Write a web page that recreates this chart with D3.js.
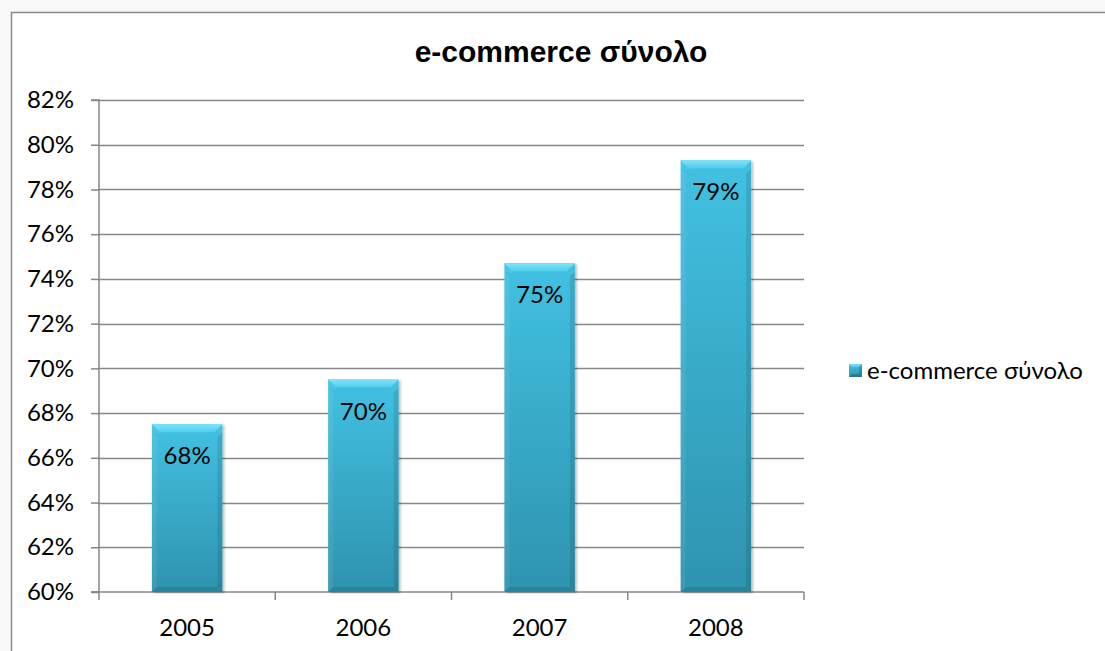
<!DOCTYPE html>
<html>
<head>
<meta charset="utf-8">
<script src="https://cdn.jsdelivr.net/npm/d3@7/dist/d3.min.js"></script>
<style>
  html, body { margin: 0; padding: 0; background: #f9f9f9; }
  svg { display: block; }
</style>
</head>
<body>
<svg id="chart" width="1105" height="651"></svg>
<script>
// Share of e-commerce per year
const years = ["2005", "2006", "2007", "2008"];
const values = [67.5, 69.5, 74.7, 79.3];
const valueLabels = ["68%", "70%", "75%", "79%"];
const yTicks = [60, 62, 64, 66, 68, 70, 72, 74, 76, 78, 80, 82];
const seriesName = "e-commerce σύνολο";
const title = "e-commerce σύνολο";

const svg = d3.select("#chart");
const W = 1105, H = 651;
const plot = { left: 99, right: 804, top: 100, bottom: 592 };
const bodyFont = "Lato, 'Open Sans', sans-serif";
const fs = 24;

// chart frame
svg.append("rect")
  .attr("x", 11.5).attr("y", 12.5)
  .attr("width", W + 20).attr("height", H + 20)
  .attr("fill", "#ffffff").attr("stroke", "#8a8a8a").attr("stroke-width", 1.5);

const defs = svg.append("defs");
const body = defs.append("linearGradient").attr("id", "barBody")
  .attr("x1", 0).attr("y1", 0).attr("x2", 0).attr("y2", 1);
body.append("stop").attr("offset", "0%").attr("stop-color", "#42c1e2");
body.append("stop").attr("offset", "100%").attr("stop-color", "#2e93af");
const cap = defs.append("linearGradient").attr("id", "barCap")
  .attr("x1", 0).attr("y1", 0).attr("x2", 0).attr("y2", 1);
cap.append("stop").attr("offset", "0%").attr("stop-color", "#7ee3fa");
cap.append("stop").attr("offset", "100%").attr("stop-color", "#50cdeb");
const shadow = defs.append("filter").attr("id", "barShadow")
  .attr("x", "-20%").attr("y", "-20%").attr("width", "140%").attr("height", "140%");
shadow.append("feDropShadow").attr("dx", 2).attr("dy", 1).attr("stdDeviation", 1.2)
  .attr("flood-color", "#000").attr("flood-opacity", 0.25);

const x = d3.scaleBand().domain(years).range([plot.left, plot.right]).paddingInner(0.6).paddingOuter(0.3);
const xb = d3.scaleBand().domain(years).range([plot.left, plot.right]);
const y = d3.scaleLinear().domain([60, 82]).range([plot.bottom, plot.top]);

// gridlines
svg.append("g").selectAll("line").data(yTicks.slice(1)).join("line")
  .attr("x1", plot.left).attr("x2", plot.right)
  .attr("y1", d => Math.round(y(d)) + 0.5).attr("y2", d => Math.round(y(d)) + 0.5)
  .attr("stroke", "#878787").attr("stroke-width", 1.5);

// y axis
const yAxis = d3.axisLeft(y).tickValues(yTicks).tickSize(8).tickPadding(17)
  .tickFormat(d => d + "%");
const gy = svg.append("g").attr("transform", `translate(${plot.left},0)`).call(yAxis);
gy.select(".domain").attr("stroke", "#878787").attr("stroke-width", 1.5)
  .attr("d", `M-8,${plot.top}H0V${plot.bottom}H-8`);
gy.selectAll(".tick line").attr("stroke", "#878787").attr("stroke-width", 1.5);
gy.selectAll(".tick text").attr("font-family", bodyFont).attr("font-size", fs).attr("fill", "#000");

// x axis with ticks at category boundaries
const gx = svg.append("g").attr("transform", `translate(0,${plot.bottom})`);
gx.append("line").attr("x1", plot.left - 8).attr("x2", plot.right)
  .attr("y1", 0).attr("y2", 0).attr("stroke", "#878787").attr("stroke-width", 1.5);
const bounds = years.map(d => xb(d)).concat([plot.right]);
gx.selectAll("line.tk").data(bounds).join("line").attr("class", "tk")
  .attr("x1", d => d).attr("x2", d => d).attr("y1", 0).attr("y2", 8)
  .attr("stroke", "#878787").attr("stroke-width", 1.5);
gx.selectAll("text").data(years).join("text")
  .attr("x", d => xb(d) + xb.bandwidth() / 2).attr("y", 44)
  .attr("text-anchor", "middle")
  .attr("font-family", bodyFont).attr("font-size", fs).attr("fill", "#000")
  .text(d => d);

// bevelled bars
const bt = 8, bs = 5;
const bars = svg.append("g").selectAll("g").data(years.map((d, i) => ({ year: d, v: values[i], label: valueLabels[i] })))
  .join("g");
bars.each(function (d) {
  const g = d3.select(this);
  const x0 = x(d.year), w = x.bandwidth();
  const y0 = y(d.v), h = y(60) - y(d.v);
  g.append("rect").attr("x", x0).attr("y", y0).attr("width", w).attr("height", h)
    .attr("fill", "url(#barBody)").attr("filter", "url(#barShadow)");
  const poly = pts => pts.map(p => p.join(",")).join(" ");
  g.append("polygon").attr("points", poly([[x0, y0 + bt], [x0 + bs, y0 + bt + bs], [x0 + bs, y0 + h - bs], [x0, y0 + h]]))
    .attr("fill", "#ffffff").attr("fill-opacity", 0.07);
  g.append("polygon").attr("points", poly([[x0 + w, y0 + bt], [x0 + w - bs, y0 + bt + bs], [x0 + w - bs, y0 + h - bs], [x0 + w, y0 + h]]))
    .attr("fill", "#000000").attr("fill-opacity", 0.1);
  g.append("polygon").attr("points", poly([[x0, y0 + h], [x0 + bs, y0 + h - bs], [x0 + w - bs, y0 + h - bs], [x0 + w, y0 + h]]))
    .attr("fill", "#000000").attr("fill-opacity", 0.1);
  g.append("polygon").attr("points", poly([[x0, y0], [x0 + w, y0], [x0 + w - bt, y0 + bt], [x0 + bt, y0 + bt]]))
    .attr("fill", "url(#barCap)");
  g.append("polygon").attr("points", poly([[x0, y0], [x0 + bt, y0 + bt], [x0 + bt, y0 + bt + 2], [x0, y0 + bt]]))
    .attr("fill", "#ffffff").attr("fill-opacity", 0.07);
  g.append("text").attr("x", x0 + w / 2).attr("y", y0 + 40)
    .attr("text-anchor", "middle")
    .attr("font-family", bodyFont).attr("font-size", fs).attr("fill", "#000")
    .text(d.label);
});

// title
svg.append("text").attr("x", 561).attr("y", 62).attr("text-anchor", "middle")
  .attr("font-family", "'Liberation Sans', Arial, sans-serif").attr("font-weight", "bold")
  .attr("font-size", 30).attr("fill", "#000").text(title);

// legend
const ls = 13;
const lg = svg.append("g").attr("transform", "translate(849,364)");
lg.append("rect").attr("x", 0).attr("y", 0).attr("width", ls).attr("height", ls).attr("fill", "url(#barBody)");
lg.append("polygon").attr("points", `0,0 ${ls},0 ${ls - 3},3 3,3`).attr("fill", "url(#barCap)");
lg.append("polygon").attr("points", `${ls},0 ${ls - 3},3 ${ls - 3},${ls - 3} ${ls},${ls}`).attr("fill", "#000").attr("fill-opacity", 0.15);
lg.append("polygon").attr("points", `0,${ls} 3,${ls - 3} ${ls - 3},${ls - 3} ${ls},${ls}`).attr("fill", "#000").attr("fill-opacity", 0.2);
lg.append("text").attr("x", ls + 5).attr("y", ls / 2).attr("dy", "0.35em")
  .attr("font-family", bodyFont).attr("font-size", fs).attr("fill", "#000").text(seriesName);
</script>
</body>
</html>
